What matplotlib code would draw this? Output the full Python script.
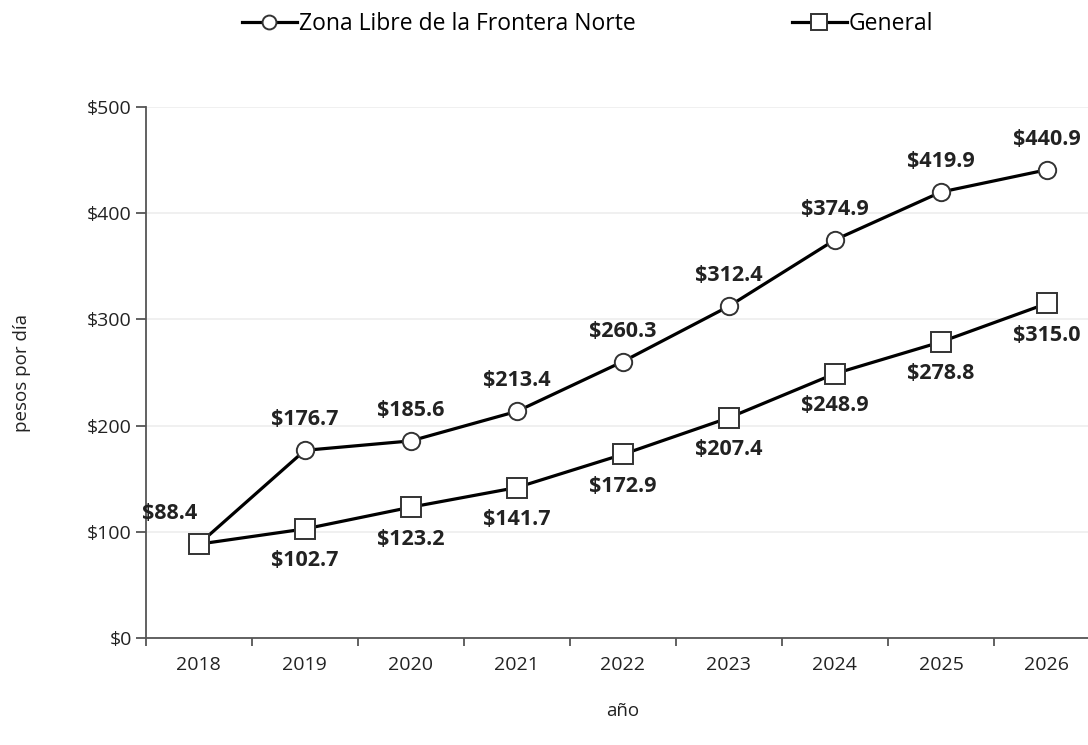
import numpy as np
import matplotlib.pyplot as plt

years = ['2018', '2019', '2020', '2021', '2022', '2023', '2024', '2025', '2026']
zona_libre = [88.4, 176.7, 185.6, 213.4, 260.3, 312.4, 374.9, 419.9, 440.9]
general = [88.4, 102.7, 123.2, 141.7, 172.9, 207.4, 248.9, 278.8, 315.0]
y_ticks = [0, 100, 200, 300, 400, 500]

plt.rcParams['font.family'] = ['Open Sans', 'DejaVu Sans']
text_color = '#222222'

fig = plt.figure(figsize=(10.88, 7.45), dpi=100)
ax = fig.add_axes([0.134, 0.1436, 0.877, 0.7128])

x = np.arange(len(years))
ax.plot(x, zona_libre, color='black', lw=2.3, marker='o', ms=12.5,
        mfc='white', mec='#333333', mew=1.4, label='Zona Libre de la Frontera Norte', zorder=3)
ax.plot(x, general, color='black', lw=2.3, marker='s', ms=14,
        mfc='white', mec='#333333', mew=1.4, label='General', zorder=3)

# data labels
for i, v in enumerate(zona_libre):
    dx = -21 if i == 0 else 0
    ax.annotate(f'${v:.1f}', (x[i], v), xytext=(dx, 22), textcoords='offset points',
                ha='center', va='center', fontsize=15.5, fontweight='bold', color=text_color)
for i, v in enumerate(general):
    if i == 0:
        continue
    ax.annotate(f'${v:.1f}', (x[i], v), xytext=(0, -23), textcoords='offset points',
                ha='center', va='center', fontsize=15.5, fontweight='bold', color=text_color)

ax.set_xlim(-0.5, len(years) - 0.5)
ax.set_ylim(0, 500)
ax.set_xticks(x)
ax.set_xticklabels(years)
ax.set_xticks(np.arange(-0.5, len(years), 1), minor=True)
ax.tick_params(axis='x', which='major', length=0, pad=13, labelsize=14, labelcolor=text_color)
ax.tick_params(axis='x', which='minor', length=6, width=1.3, color='#555555')
ax.set_yticks(y_ticks)
ax.set_yticklabels([f'${t}' for t in y_ticks])
ax.tick_params(axis='y', length=7, width=1.3, color='#555555', labelsize=14, labelcolor=text_color, pad=3)

ax.grid(axis='y', color='#eeeeee', lw=1.2)
ax.set_axisbelow(True)
for s in ['top', 'right']:
    ax.spines[s].set_visible(False)
for s in ['left', 'bottom']:
    ax.spines[s].set_color('#555555')
    ax.spines[s].set_linewidth(1.3)

ax.set_ylabel('pesos por día', fontsize=13.5, color=text_color, labelpad=40)
ax.set_xlabel('año', fontsize=13.5, color=text_color, labelpad=20)

fig.legend(loc='center', bbox_to_anchor=(0.54, 0.968), ncol=2, frameon=False,
           fontsize=16.5, handlelength=2.4, handletextpad=0.1, columnspacing=6.8,
           markerscale=0.8)

fig.savefig('out.png', dpi=100)
